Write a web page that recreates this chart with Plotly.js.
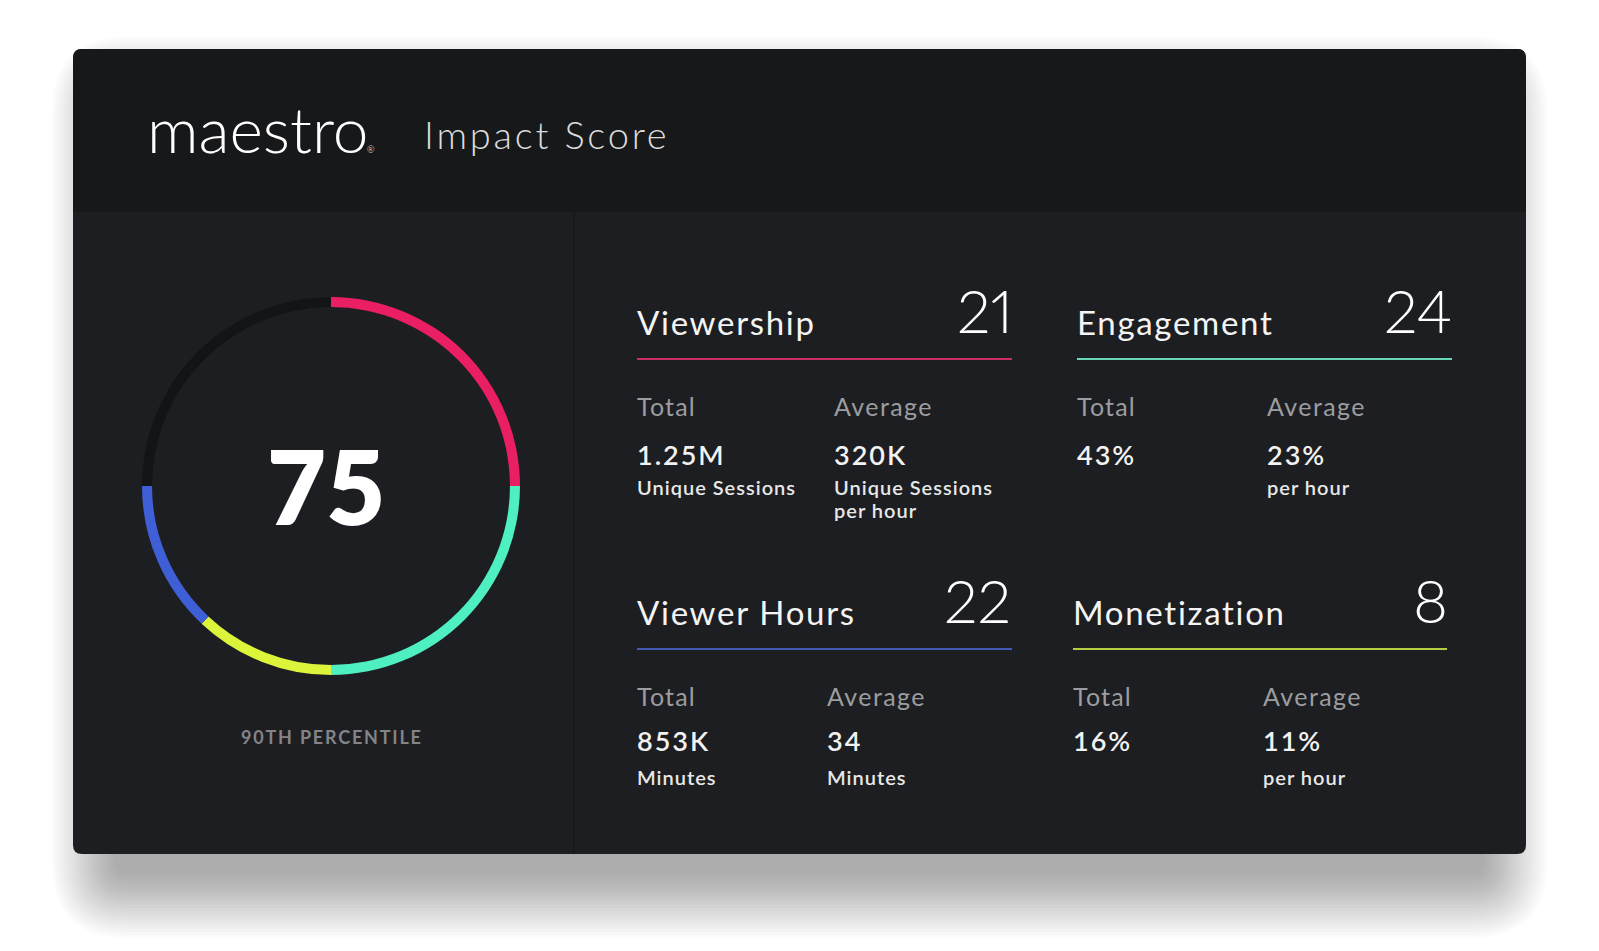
<!DOCTYPE html>
<html><head><meta charset="utf-8">
<script src="https://cdn.plot.ly/plotly-3.0.1.min.js"></script>
<style>html,body{margin:0;padding:0;background:#fff;overflow:hidden}#chart{width:1599px;height:951px}</style>
</head><body><div id="chart"></div>
<script>
const W = 1599, H = 951;

// ---------------- data ----------------
const brand = 'maestro';
const pageTitle = 'Impact Score';
const overallScore = 75;
const percentileLabel = '90TH PERCENTILE';

const categories = ['Viewership', 'Engagement', 'Viewer Hours', 'Monetization'];
const scores = [21, 24, 22, 8];
const totalLabel = 'Total';
const averageLabel = 'Average';
const totalValues = ['1.25M', '43%', '853K', '16%'];
const totalUnits = [['Unique Sessions'], [], ['Minutes'], []];
const averageValues = ['320K', '23%', '34', '11%'];
const averageUnits = [['Unique Sessions', 'per hour'], ['per hour'], ['Minutes'], ['per hour']];

// ring arcs as drawn, clockwise from 12 o'clock (share of the full circle, %)
const ringLabels = ['Viewership', 'Engagement', 'Monetization', 'Viewer Hours', 'Remaining'];
const ringShares = [25, 25, 12, 13, 25];

// ---------------- styles ----------------
const ringColors = {Viewership:'#e91e63', Engagement:'#4ef0c1', 'Viewer Hours':'#3f5fd6', Monetization:'#dcf53b', Remaining:'#131416'};
const lineColors = {Viewership:'#cc2d66', Engagement:'#66d8b8', 'Viewer Hours':'#4459b6', Monetization:'#b6cc45'};
const FONT = 'Lato, "Open Sans", sans-serif';

// block placement (pixels)
const blockLeft  = [637, 1077, 637, 1073];
const blockAvgX  = [834, 1267, 827, 1263];
const blockRight = [1013, 1452, 1011, 1448];
const blockLineEnd = [1012, 1452, 1012, 1447];
const rowShift = [0, 0, 290, 290];
const valueShift = [0, 0, 286, 286];

const X = px => px / W;
const Y = py => 1 - py / H;
const ASC = 0.987, DESC = 0.213;

function sp(text, px, extra) {
  return '<span style="letter-spacing:' + px + 'px' + (extra ? ';' + extra : '') + '">' + text + '</span>';
}

function txt(text, x, baseline, size, o) {
  o = o || {};
  const center = baseline - (ASC - (ASC + DESC) / 2) * size;
  return {
    xref:'paper', yref:'paper', x:X(x), y:Y(center), text:text, showarrow:false,
    xanchor:o.anchor || 'left', yanchor:'middle', borderpad:0, borderwidth:0,
    font:{family:FONT, size:size, color:o.color || '#ffffff', weight:o.weight || 400}
  };
}

function rrPath(x0, y0, x1, y1, rt, rb) {
  const p = (x, y) => X(x) + ',' + Y(y);
  return 'M' + p(x0 + rt, y0) + ' L' + p(x1 - rt, y0) + ' Q' + p(x1, y0) + ' ' + p(x1, y0 + rt) +
    ' L' + p(x1, y1 - rb) + ' Q' + p(x1, y1) + ' ' + p(x1 - rb, y1) +
    ' L' + p(x0 + rb, y1) + ' Q' + p(x0, y1) + ' ' + p(x0, y1 - rb) +
    ' L' + p(x0, y0 + rt) + ' Q' + p(x0, y0) + ' ' + p(x0 + rt, y0) + ' Z';
}

const shapes = [];
// soft drop shadow
const SH_N = 22;
for (let i = 0; i < SH_N; i++) {
  const e = i * 3;
  shapes.push({type:'path', xref:'paper', yref:'paper', layer:'below',
    path: rrPath(115 - e, 100 - e, 1484 + e, 875 + e, 12 + e, 12 + e),
    fillcolor:'rgba(0,0,0,0.015)', line:{width:0}});
}
// card body + header
shapes.push({type:'path', xref:'paper', yref:'paper', layer:'below', path: rrPath(73, 49, 1526, 854, 9, 9), fillcolor:'#1d1e21', line:{width:0}});
shapes.push({type:'path', xref:'paper', yref:'paper', layer:'below', path: rrPath(73, 49, 1526, 212, 9, 0), fillcolor:'#17181a', line:{width:0}});
// divider
shapes.push({type:'line', xref:'paper', yref:'paper', layer:'below', x0:X(574), x1:X(574), y0:Y(212), y1:Y(854), line:{color:'#17181b', width:1.5}});

const annotations = [];
annotations.push(txt(brand, 147, 153, 64, {weight:300}));
annotations.push(txt('®', 367, 153, 9, {weight:300}));
annotations.push(txt(sp(pageTitle, 2.8), 424, 149, 38, {weight:300, color:'#dcdcdc'}));
annotations.push(txt(String(overallScore), 326, 525, 102, {anchor:'center', weight:800}));
annotations.push(txt(sp(percentileLabel, 1.8), 332, 744, 18, {anchor:'center', weight:700, color:'#838488'}));

categories.forEach((c, k) => {
  const s = rowShift[k], v = valueShift[k];
  const L = blockLeft[k], A = blockAvgX[k];
  annotations.push(txt(sp(c, 1.7), L, 335 + s, 33, {weight:400, color:'#f4f4f4'}));
  annotations.push(txt(sp(String(scores[k]), 0, 'font-variant-numeric:proportional-nums'), blockRight[k], 333 + s, 60, {anchor:'right', weight:300}));
  shapes.push({type:'line', xref:'paper', yref:'paper', x0:X(L), x1:X(blockLineEnd[k]), y0:Y(359 + s), y1:Y(359 + s), line:{color:lineColors[c], width:2}});
  annotations.push(txt(sp(totalLabel, 1.2), L, 416 + s, 25, {color:'#9c9da0'}));
  annotations.push(txt(sp(averageLabel, 1.4), A, 416 + s, 25, {color:'#9c9da0'}));
  annotations.push(txt(sp(totalValues[k], 2), L, 465 + v, 27, {weight:600, color:'#f2f2f2'}));
  annotations.push(txt(sp(averageValues[k], 2), A, 465 + v, 27, {weight:600, color:'#f2f2f2'}));
  totalUnits[k].forEach((u, j) => annotations.push(txt(sp(u, 1), L, 495 + s + 23 * j, 20, {weight:600, color:'#e8e8e8'})));
  averageUnits[k].forEach((u, j) => annotations.push(txt(sp(u, 1), A, 495 + s + 23 * j, 20, {weight:600, color:'#e8e8e8'})));
});

const ring = {
  type:'pie', labels:ringLabels, values:ringShares, sort:false, direction:'clockwise', rotation:0,
  hole:0.947, textinfo:'none', hoverinfo:'label+value', showlegend:false,
  marker:{colors:ringLabels.map(l => ringColors[l]), line:{width:0}},
  domain:{x:[X(142), X(520)], y:[Y(675), Y(297)]}
};

const layout = {
  width:W, height:H, margin:{l:0, r:0, t:0, b:0},
  paper_bgcolor:'#ffffff', plot_bgcolor:'rgba(0,0,0,0)',
  showlegend:false, shapes:shapes, annotations:annotations,
  font:{family:FONT}
};

Plotly.newPlot('chart', [ring], layout, {displayModeBar:false, responsive:false});
</script></body></html>
